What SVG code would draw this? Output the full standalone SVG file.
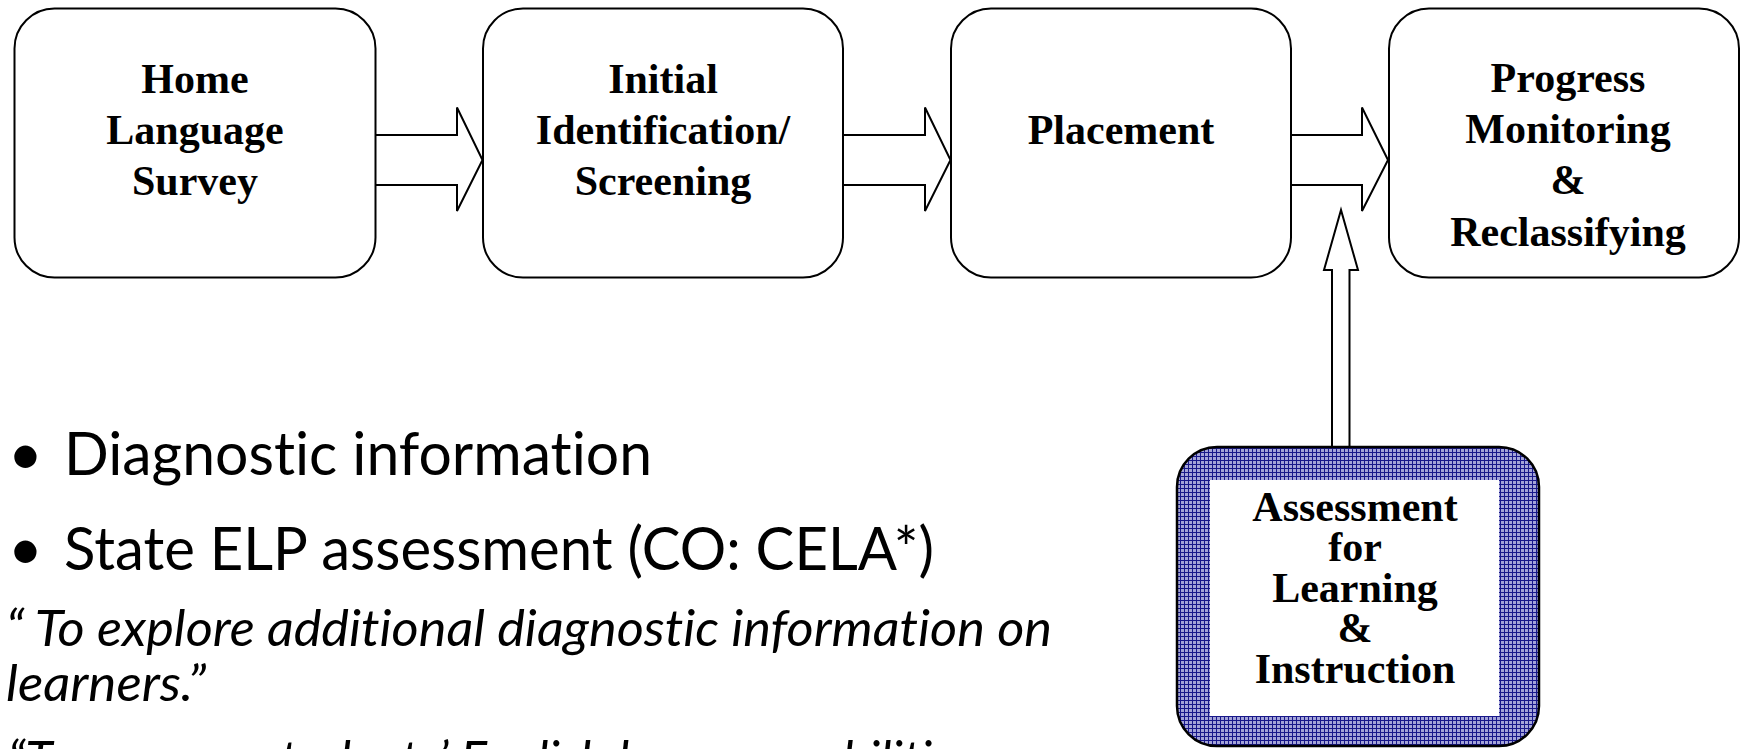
<svg xmlns="http://www.w3.org/2000/svg" width="1740" height="749" viewBox="0 0 1740 749">
<defs>
<style>
.box{fill:#fff;stroke:#000;stroke-width:2}
.arr{fill:#fff;stroke:#000;stroke-width:2;stroke-linejoin:miter}
.t{font-family:"Liberation Serif","Times New Roman",serif;font-weight:bold;font-size:42px;fill:#000;text-anchor:middle}
.b{font-family:Lato,"Liberation Sans",sans-serif;font-size:60px;fill:#000;font-variant-ligatures:none}
.i{font-family:Lato,"Liberation Sans",sans-serif;font-style:italic;font-size:50px;fill:#000;font-variant-ligatures:none}
</style>
<pattern id="grid" width="4" height="4" patternUnits="userSpaceOnUse">
<rect width="4" height="4" fill="#a4a4d8"/>
<rect width="4" height="1" fill="#18188a"/>
<rect width="1" height="4" fill="#18188a"/>
</pattern>
</defs>
<rect width="1740" height="749" fill="#fff"/>
<g id="connectors">
<path class="arr" d="M375,135 H457 V107.5 L482.5,160 L457,211 V185 H375"/>
<path class="arr" d="M843,135 H925 V107.5 L950.5,160 L925,211 V185 H843"/>
<path class="arr" d="M1291,135 H1362 V107.5 L1388,160 L1362,211 V185 H1291"/>
<path class="arr" d="M1332,447 V270 H1324 L1341,210 L1358,270 H1349.5 V447"/>
</g>
<g id="node-home">
<rect class="box" x="14.5" y="8.5" width="361" height="269" rx="40"/>
<text class="t" x="195" y="93">Home</text>
<text class="t" x="195" y="144">Language</text>
<text class="t" x="195" y="195">Survey</text>
</g>
<g id="node-initial">
<rect class="box" x="483" y="8.5" width="360" height="269" rx="40"/>
<text class="t" x="663" y="93">Initial</text>
<text class="t" x="663" y="144">Identification/</text>
<text class="t" x="663" y="195">Screening</text>
</g>
<g id="node-placement">
<rect class="box" x="951" y="8.5" width="340" height="269" rx="40"/>
<text class="t" x="1121" y="144">Placement</text>
</g>
<g id="node-progress">
<rect class="box" x="1389" y="8.5" width="350" height="269" rx="40"/>
<text class="t" x="1568" y="92">Progress</text>
<text class="t" x="1568" y="143">Monitoring</text>
<text class="t" x="1568" y="194">&amp;</text>
<text class="t" x="1568" y="246">Reclassifying</text>
</g>
<g id="node-assessment">
<rect x="1177" y="447" width="362" height="299" rx="40" fill="url(#grid)" stroke="#000" stroke-width="2.5"/>
<rect x="1210" y="480" width="289" height="236" fill="#fff"/>
<text class="t" x="1355" y="521">Assessment</text>
<text class="t" x="1355" y="561">for</text>
<text class="t" x="1355" y="602">Learning</text>
<text class="t" x="1355" y="642">&amp;</text>
<text class="t" x="1355" y="683">Instruction</text>
</g>
<g id="notes">
<text class="b" x="8" y="475">•</text>
<text class="b" x="64" y="475" textLength="588" lengthAdjust="spacingAndGlyphs">Diagnostic information</text>
<text class="b" x="8" y="570">•</text>
<text class="b" x="64" y="570" textLength="870" lengthAdjust="spacingAndGlyphs">State ELP assessment (CO: CELA*)</text>
<text class="i" x="6" y="646" textLength="1046" lengthAdjust="spacingAndGlyphs">“ To explore additional diagnostic information on</text>
<text class="i" x="6" y="701" textLength="200" lengthAdjust="spacingAndGlyphs">learners.”</text>
<text class="i" x="8" y="777">“To uncover students’ English language abilities</text>
</g>
</svg>
